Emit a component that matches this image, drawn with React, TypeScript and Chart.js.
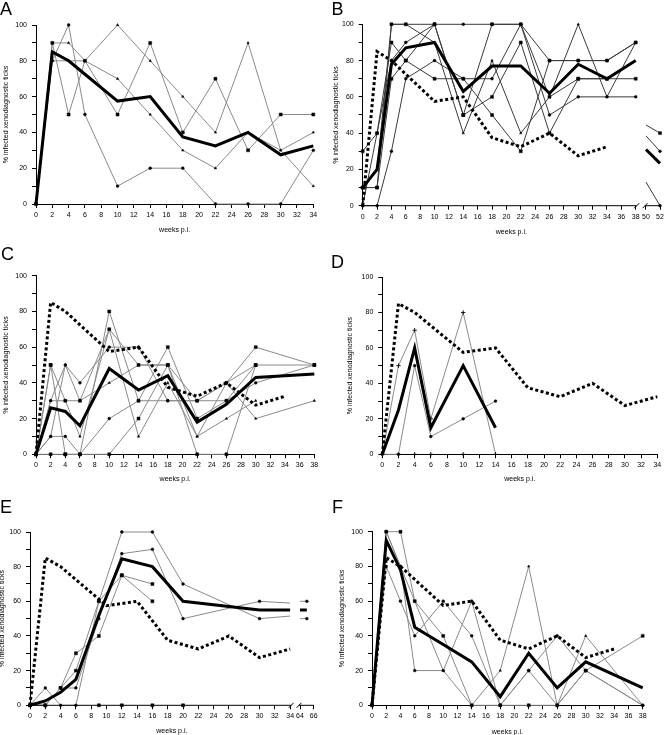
import React, { useEffect, useRef } from "react";
import { Chart, registerables } from "chart.js";

Chart.register(...registerables);

const FONT = '"Liberation Sans", Arial, Helvetica, sans-serif';

// ---------- tick labels ----------
const Y_TICKS = [0, 10, 20, 30, 40, 50, 60, 70, 80, 90, 100];
const Y_LABELS = [0, 20, 40, 60, 80, 100];
const TICKS_34 = [0, 2, 4, 6, 8, 10, 12, 14, 16, 18, 20, 22, 24, 26, 28, 30, 32, 34];
const TICKS_38 = [0, 2, 4, 6, 8, 10, 12, 14, 16, 18, 20, 22, 24, 26, 28, 30, 32, 34, 36, 38];
const TICKS_B_AFTER = [50, 52];
const TICKS_E_AFTER = [64, 66];

// ---------- reference (dotted) ----------
const REF_WEEKS = [0, 2, 4, 6, 10, 14, 18, 22, 26, 30, 34];
const REF_MEAN = [0, 85, 80, 72.5, 57.5, 60, 37.5, 32.5, 40, 27.5, 32.5];

// ---------- panel A ----------
const A_WEEKS = [0, 2, 4, 6, 10, 14, 18, 22, 26, 30, 34];
const A1 = [0, 90, 50, 80, 50, 90, 40, 70, 30, 50, 50];
const A2 = [0, 90, 90, 80, 70, 50, 30, 20, 40, 30, 40];
const A3 = [0, 80, 100, 50, 10, 20, 20, 0, 0, 0, 30];
const A4 = [0, 80, 80, 80, 100, 80, 60, 40, 90, 30, 10];
const A_MEAN = [0, 85, 80, 72.5, 57.5, 60, 37.5, 32.5, 40, 27.5, 32.5];

// ---------- panel B ----------
const B_WEEKS = [0, 2, 4, 6, 10, 14, 18, 22, 26, 30, 34, 38];
const B1 = [10, 10, 100, 100, 100, 50, 60, 90, 40, 70, 70, 70];
const B2 = [0, 40, 80, 90, 100, 100, 100, 100, 50, 60, 60, 60];
const B3 = [30, 40, 90, 80, 70, 70, 50, 30, 80, 80, 80, 90];
const B4 = [10, 20, 100, 100, 90, 40, 80, 40, 60, 100, 60, 90];
const B5 = [0, 0, 30, 70, 80, 70, 70, 100, 80, 80, 80, 90];
const B6 = [10, 10, 70, 80, 100, 50, 100, 100, 60, 70, 70];
const B_MEAN = [10, 20, 78, 87, 90, 63, 77, 77, 62, 78, 70, 80];
const B_POST_WEEKS = [50, 52];
const B_POST1 = [44.5, 40];
const B_POST2 = [38.5, 30];
const B_POST3 = [13, 0];
const B_POST_MEAN = [31, 23.3];

// ---------- panel C ----------
const C_WEEKS = [0, 2, 4, 6, 10, 14, 18, 22, 26, 30, 38];
const C1 = [0, 50, 30, 30, 70, 50, 50, 30, 40, 60, 50];
const C2 = [0, 50, 0, 0, 80, 30, 60, 20, 30, 50, 50];
const C3 = [0, 30, 50, 40, 60, 60, 30, 30, 30, 40, 50];
const C4 = [0, 30, 30, 10, 70, 10, 40, 10, 40, 20, 30];
const C5 = [0, 10, 10, 0, 20, 30, 30, 30, 40, 50];
const C6 = [0, 10, 50, 30, 40, 50, 50, 10, 20, 30];
const C7 = [0, 0, 0, 0, 0, 20, 50, 0, 0, 50];
const C_MEAN = [0, 26, 24, 16, 48, 36, 44, 18, 28, 43, 45];

// ---------- panel D ----------
const D_WEEKS = [0, 2, 4, 6, 10, 14];
const D1 = [0, 50, 70, 20, 80, 0];
const D2 = [0, 0, 50, 10, 20, 30];
const D_ZERO_WEEKS = [0, 2, 4, 6, 10];
const D_ZERO = [0, 0, 0, 0, 0];
const D_MEAN = [0, 25, 60, 15, 50, 15];

// ---------- panel E ----------
const E_WEEKS = [0, 2, 4, 6, 9, 12, 16, 20, 30, 34];
const E1 = [0, 10, 0, 0, 60, 100, 100, 70, 50, 51.5];
const E2 = [0, 0, 10, 10, 50, 87.5, 90, 50, 60, 59];
const E3 = [0, 0, 10, 30, 40, 75, 70];
const E4 = [0, 0, 10, 20, 60, 75, 60];
const E_ZERO_WEEKS = [9, 12, 16, 20];
const E_ZERO = [0, 0, 0, 0];
const E_MEAN = [0, 2.5, 7.5, 15, 52, 84.5, 80, 60, 55, 55];
const E_POST_WEEKS = [64, 65];
const E_POST1 = [60, 60];
const E_POST2 = [50, 50];
const E_POST_MEAN = [55, 55];

// ---------- panel F ----------
const F_WEEKS = [0, 2, 4, 6, 10, 14, 18, 22, 26, 30, 38];
const F1 = [0, 100, 100, 60, 40, 0, 0, 0, 0, 20, 40];
const F2 = [0, 100, 80, 20, 20, 60, 0, 20, 40, 20, 0];
const F3 = [0, 80, 60, 40, 60, 40, 0, 20, 0, 20, 0];
const F4 = [0, 100, 80, 60, 20, 0, 20, 80, 0, 40, 0];
const F_MEAN = [0, 95, 78, 45, 35, 25, 5, 30, 10, 25, 10];

// ---------- types & helpers ----------
type Kind = "thin" | "mean" | "ref" | "zero";
type Series = { weeks: number[]; values: number[]; kind: Kind; marker?: string; markerAt?: number[] };

type Geo = {
  areaLeft: number; areaRight: number; areaTop: number; areaBottom: number;
  yTitleX: number; xTitleY: number;
};

type Spec = {
  letter: string; letterX: number; letterY: number;
  geo: Geo;
  xMax: number;
  mapX: (w: number) => number;
  tickWeeks: number[];
  series: Series[];
  thinColor: string;
  brk?: { before: number; after: number; last: number };
};

const FONT_SIZE = 7;
const HALF_LH = (FONT_SIZE * 1.2) / 2;

function geom(g: Geo) {
  const left = Math.floor(g.yTitleX - HALF_LH - 0.5);
  const yTitlePad = g.yTitleX - HALF_LH - left;
  const top = Math.floor(g.areaTop - 12);
  const padTop = g.areaTop - top;
  const bottom = Math.ceil(g.xTitleY + HALF_LH + 0.5);
  const xTitlePad = bottom - HALF_LH - g.xTitleY;
  const right = Math.ceil(g.areaRight + 10);
  const padRight = right - g.areaRight;
  return {
    left, top, width: right - left, height: bottom - top,
    yAxisW: g.areaLeft - left, xAxisH: bottom - g.areaBottom,
    padTop, padRight, yTitlePad, xTitlePad,
  };
}

const identity = (w: number) => w;
const mapB = (w: number) => (w <= 38 ? w : 39.43 + (w - 50) * 0.975);
const mapE = (w: number) => (w <= 34 ? w : 35.29 + (w - 64) * 0.895);

function buildDatasets(spec: Spec) {
  return spec.series.map((s) => {
    const data = s.weeks.map((w, i) => ({ x: spec.mapX(w), y: s.values[i] }));
    if (s.kind === "mean") {
      return { data, borderColor: "#000", borderWidth: 3, pointRadius: 0, clip: 8, order: 0 };
    }
    if (s.kind === "ref") {
      return {
        data, borderColor: "#000", borderWidth: 3, borderDash: [3, 2.5],
        borderCapStyle: "butt", pointRadius: 0, clip: 8, order: 1,
      };
    }
    const marker = s.marker || "circle";
    const r = marker === "rect" ? 2.1 : marker === "cross" ? 2.2 : 1.4;
    const radii = s.markerAt ? s.weeks.map((_, i) => (s.markerAt!.includes(i) ? r : 0)) : r;
    return {
      data,
      showLine: s.kind !== "zero",
      borderColor: spec.thinColor,
      borderWidth: 1,
      pointRadius: radii,
      pointStyle: marker,
      pointBackgroundColor: "#000",
      pointBorderColor: "#000",
      pointBorderWidth: marker === "cross" ? 0.9 : 0.5,
      clip: 8,
      order: 2,
    };
  });
}

const breakPlugin = {
  id: "axisBreak",
  afterDraw(chart: any, _args: any, opts: any) {
    if (!opts || !opts.brk) return;
    const { ctx, scales, chartArea } = chart;
    const x = scales.x;
    const y0 = chartArea.bottom;
    const b = opts.brk;
    const mapX = opts.mapX;
    const s1 = mapX(b.before) + 0.14;
    const s2 = mapX(b.after) - 0.13;
    ctx.save();
    ctx.strokeStyle = "#000";
    ctx.lineWidth = 1;
    ctx.beginPath();
    ctx.moveTo(x.getPixelForValue(0), y0);
    ctx.lineTo(x.getPixelForValue(s1), y0);
    ctx.moveTo(x.getPixelForValue(s2), y0);
    ctx.lineTo(x.getPixelForValue(mapX(b.last)), y0);
    for (const v of [s1, s2]) {
      const p = x.getPixelForValue(v);
      ctx.moveTo(p - 2.5, y0 + 2.5);
      ctx.lineTo(p + 2.5, y0 - 2.5);
    }
    ctx.stroke();
    ctx.restore();
  },
};

function makeChart(canvas: HTMLCanvasElement, spec: Spec) {
  const g = geom(spec.geo);
  const font = { family: FONT, size: FONT_SIZE };
  const tickPos = spec.tickWeeks.map(spec.mapX);
  return new Chart(canvas, {
    type: "line",
    data: { datasets: buildDatasets(spec) as any },
    options: {
      responsive: false,
      animation: false,
      events: [],
      layout: { padding: { top: g.padTop, right: g.padRight, left: 0, bottom: 0 } },
      plugins: {
        legend: { display: false },
        tooltip: { enabled: false },
        axisBreak: spec.brk ? { brk: spec.brk, mapX: spec.mapX } : {},
      } as any,
      scales: {
        x: {
          type: "linear",
          min: 0,
          max: spec.xMax,
          afterBuildTicks: (s: any) => {
            s.ticks = tickPos.map((v) => ({ value: v }));
          },
          afterFit: (s: any) => {
            s.height = g.xAxisH;
          },
          ticks: {
            callback: (_v: any, i: number) => String(spec.tickWeeks[i]),
            font,
            color: "#000",
            padding: 3,
            autoSkip: false,
            maxRotation: 0,
            minRotation: 0,
          },
          grid: { drawOnChartArea: false, drawTicks: true, tickLength: 4, color: "#000", lineWidth: 1 },
          border: { display: !spec.brk, color: "#000", width: 1 },
          title: { display: true, text: "weeks p.i.", font, color: "#000", padding: { top: 0, bottom: g.xTitlePad } },
        },
        y: {
          type: "linear",
          min: 0,
          max: 100,
          afterBuildTicks: (s: any) => {
            s.ticks = Y_TICKS.map((v) => ({ value: v }));
          },
          afterFit: (s: any) => {
            s.width = g.yAxisW;
          },
          ticks: {
            callback: (v: any) => (Y_LABELS.includes(Number(v)) ? String(v) : ""),
            font,
            color: "#000",
            padding: 5,
            autoSkip: false,
          },
          grid: { drawOnChartArea: false, drawTicks: true, tickLength: 4, color: "#000", lineWidth: 1 },
          border: { display: true, color: "#000", width: 1 },
          title: {
            display: true,
            text: "% infected xenodiagnostic ticks",
            font,
            color: "#000",
            padding: { top: g.yTitlePad, bottom: 0 },
          },
        },
      },
    } as any,
    plugins: [breakPlugin],
  });
}

function Panel({ spec }: { spec: Spec }) {
  const ref = useRef<HTMLCanvasElement>(null);
  const g = geom(spec.geo);
  useEffect(() => {
    const chart = makeChart(ref.current as HTMLCanvasElement, spec);
    return () => chart.destroy();
  }, []);
  return (
    <>
      <canvas
        ref={ref}
        width={g.width}
        height={g.height}
        style={{ position: "absolute", left: g.left, top: g.top, width: g.width, height: g.height }}
      />
      <div
        style={{
          position: "absolute",
          left: spec.letterX,
          top: spec.letterY,
          font: `18px ${FONT}`,
          lineHeight: "18px",
          color: "#000",
        }}
      >
        {spec.letter}
      </div>
    </>
  );
}

const ref = (): Series => ({ weeks: REF_WEEKS, values: REF_MEAN, kind: "ref" });

const SPECS: Spec[] = [
  {
    letter: "A", letterX: 0, letterY: 0,
    geo: { areaLeft: 36, areaRight: 313.3, areaTop: 25, areaBottom: 204, yTitleX: 6, xTitleY: 230 },
    xMax: 34, mapX: identity, tickWeeks: TICKS_34, thinColor: "#8a8a8a",
    series: [
      { weeks: A_WEEKS, values: A_MEAN, kind: "mean" },
      { weeks: A_WEEKS, values: A1, kind: "thin", marker: "rect" },
      { weeks: A_WEEKS, values: A2, kind: "thin", marker: "triangle" },
      { weeks: A_WEEKS, values: A3, kind: "thin", marker: "circle" },
      { weeks: A_WEEKS, values: A4, kind: "thin", marker: "triangle" },
    ],
  },
  {
    letter: "B", letterX: 331.5, letterY: 0,
    geo: { areaLeft: 362.7, areaRight: 660, areaTop: 24.3, areaBottom: 205.7, yTitleX: 336, xTitleY: 231.7 },
    xMax: mapB(52), mapX: mapB, tickWeeks: [...TICKS_38, ...TICKS_B_AFTER], thinColor: "#3a3a3a",
    brk: { before: 38, after: 50, last: 52 },
    series: [
      { weeks: B_WEEKS, values: B_MEAN, kind: "mean" },
      ref(),
      { weeks: B_WEEKS, values: B1, kind: "thin", marker: "rect" },
      { weeks: B_WEEKS, values: B2, kind: "thin", marker: "circle" },
      { weeks: B_WEEKS, values: B3, kind: "thin", marker: "rect" },
      { weeks: B_WEEKS, values: B4, kind: "thin", marker: "triangle" },
      { weeks: B_WEEKS, values: B5, kind: "thin", marker: "circle" },
      { weeks: B_WEEKS.slice(0, B6.length), values: B6, kind: "thin", marker: "rect" },
      { weeks: B_POST_WEEKS, values: B_POST_MEAN, kind: "mean" },
      { weeks: B_POST_WEEKS, values: B_POST1, kind: "thin", marker: "rect", markerAt: [1] },
      { weeks: B_POST_WEEKS, values: B_POST2, kind: "thin", marker: "circle", markerAt: [1] },
      { weeks: B_POST_WEEKS, values: B_POST3, kind: "thin", marker: "circle", markerAt: [1] },
    ],
  },
  {
    letter: "C", letterX: 1, letterY: 245,
    geo: { areaLeft: 36, areaRight: 314.3, areaTop: 275.7, areaBottom: 454.3, yTitleX: 6, xTitleY: 479.3 },
    xMax: 38, mapX: identity, tickWeeks: TICKS_38, thinColor: "#8a8a8a",
    series: [
      { weeks: C_WEEKS, values: C_MEAN, kind: "mean" },
      ref(),
      { weeks: C_WEEKS, values: C1, kind: "thin", marker: "rect" },
      { weeks: C_WEEKS, values: C2, kind: "thin", marker: "rect" },
      { weeks: C_WEEKS, values: C3, kind: "thin", marker: "circle" },
      { weeks: C_WEEKS, values: C4, kind: "thin", marker: "triangle" },
      { weeks: C_WEEKS.slice(0, C5.length), values: C5, kind: "thin", marker: "circle" },
      { weeks: C_WEEKS.slice(0, C6.length), values: C6, kind: "thin", marker: "triangle" },
      { weeks: C_WEEKS.slice(0, C7.length), values: C7, kind: "thin", marker: "rect" },
    ],
  },
  {
    letter: "D", letterX: 331, letterY: 253,
    geo: { areaLeft: 382.3, areaRight: 657.3, areaTop: 277, areaBottom: 454.3, yTitleX: 350, xTitleY: 479.3 },
    xMax: 34, mapX: identity, tickWeeks: TICKS_34, thinColor: "#8a8a8a",
    series: [
      { weeks: D_WEEKS, values: D_MEAN, kind: "mean" },
      ref(),
      { weeks: D_WEEKS, values: D1, kind: "thin", marker: "cross" },
      { weeks: D_WEEKS, values: D2, kind: "thin", marker: "circle" },
      { weeks: D_ZERO_WEEKS, values: D_ZERO, kind: "zero", marker: "cross" },
    ],
  },
  {
    letter: "E", letterX: 0, letterY: 498,
    geo: { areaLeft: 30, areaRight: 313.7, areaTop: 532, areaBottom: 705.3, yTitleX: 2, xTitleY: 731 },
    xMax: mapE(66), mapX: mapE, tickWeeks: [...TICKS_34, ...TICKS_E_AFTER], thinColor: "#8a8a8a",
    brk: { before: 34, after: 64, last: 66 },
    series: [
      { weeks: E_WEEKS, values: E_MEAN, kind: "mean" },
      ref(),
      { weeks: E_WEEKS, values: E1, kind: "thin", marker: "circle", markerAt: [0, 1, 2, 3, 4, 5, 6, 7, 8] },
      { weeks: E_WEEKS, values: E2, kind: "thin", marker: "circle", markerAt: [0, 1, 2, 3, 4, 5, 6, 7, 8] },
      { weeks: E_WEEKS.slice(0, E3.length), values: E3, kind: "thin", marker: "rect" },
      { weeks: E_WEEKS.slice(0, E4.length), values: E4, kind: "thin", marker: "rect" },
      { weeks: E_ZERO_WEEKS, values: E_ZERO, kind: "zero", marker: "rect" },
      { weeks: E_POST_WEEKS, values: E_POST_MEAN, kind: "mean" },
      { weeks: E_POST_WEEKS, values: E_POST1, kind: "thin", marker: "circle", markerAt: [1] },
      { weeks: E_POST_WEEKS, values: E_POST2, kind: "thin", marker: "circle", markerAt: [1] },
    ],
  },
  {
    letter: "F", letterX: 332, letterY: 498,
    geo: { areaLeft: 372, areaRight: 642.7, areaTop: 531.7, areaBottom: 705.3, yTitleX: 341.7, xTitleY: 731.7 },
    xMax: 38, mapX: identity, tickWeeks: TICKS_38, thinColor: "#8a8a8a",
    series: [
      { weeks: F_WEEKS, values: F_MEAN, kind: "mean" },
      ref(),
      { weeks: F_WEEKS, values: F1, kind: "thin", marker: "rect" },
      { weeks: F_WEEKS, values: F2, kind: "thin", marker: "circle" },
      { weeks: F_WEEKS, values: F3, kind: "thin", marker: "circle" },
      { weeks: F_WEEKS, values: F4, kind: "thin", marker: "triangle" },
    ],
  },
];

export default function App() {
  return (
    <div
      style={{
        position: "absolute",
        left: 0,
        top: 0,
        width: 664,
        height: 735,
        overflow: "hidden",
        background: "#fff",
      }}
    >
      {SPECS.map((s) => (
        <Panel key={s.letter} spec={s} />
      ))}
    </div>
  );
}
